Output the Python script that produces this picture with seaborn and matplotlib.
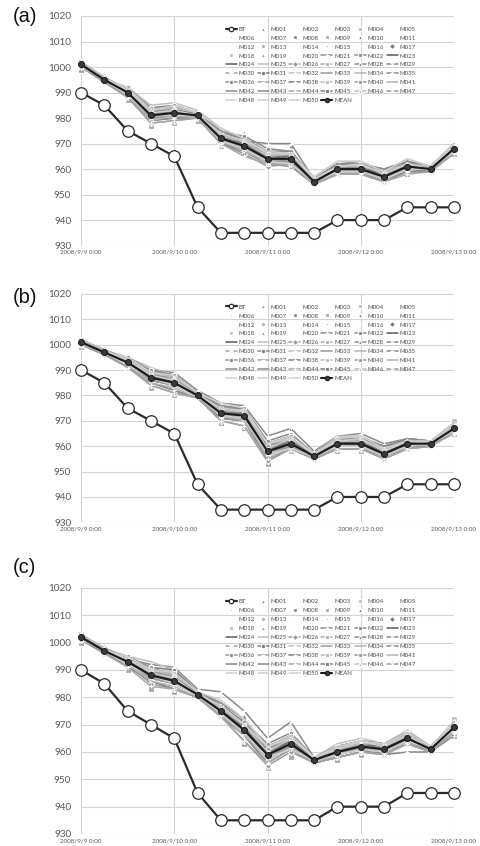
import numpy as np
import pandas as pd
import seaborn as sns
import matplotlib.pyplot as plt

# time axis: every 6 h from 2008/9/9 0:00 to 2008/9/13 0:00
times = pd.date_range("2008-09-09 00:00", periods=17, freq="6h")
day_ticks = pd.date_range("2008-09-09", "2008-09-13", freq="D")
day_labels = ["2008/9/9 0:00", "2008/9/10 0:00", "2008/9/11 0:00",
              "2008/9/12 0:00", "2008/9/13 0:00"]
y_ticks = [930, 940, 950, 960, 970, 980, 990, 1000, 1010, 1020]
panel_tags = ["(a)", "(b)", "(c)"]

# best track central pressure (hPa)
bt = [990, 985, 975, 970, 965, 945, 935, 935, 935, 935, 935, 940, 940, 940, 945, 945, 945]

# ensemble mean per experiment
mean_a = [1001, 995, 990, 981, 982, 981, 972, 969, 964, 964, 955, 960, 960, 957, 961, 960, 968]
mean_b = [1001, 997, 993, 987, 985, 980, 973, 972, 958, 961, 956, 961, 961, 957, 961, 961, 967]
mean_c = [1002, 997, 993, 988, 986, 981, 975, 968, 959, 963, 957, 960, 962, 961, 965, 961, 969]

# member deviations from the mean (hPa), rows M001..M050
dev_a = """
 0  0  1  3  2  1  2  6  2  1  1  1  0  2  1  0  0
-1  0 -1 -2 -1  0 -1 -4 -2 -2  0 -1 -1  0 -1  0 -1
 0  1  0  1  0  0  1  1  0  0 -1  0  1 -1  0  1  1
 1  0  1  0  1  1  0  0  1  1  0  1  0  1  1  0  0
-1 -1 -2 -3 -3 -1 -2 -3 -2 -2 -1 -2 -2 -2 -2 -1 -2
 0  0  2  2  3  1  3  2  1  0  1  2  2  1  2  1  1
 0  0 -1 -1 -2  0 -1 -2 -1 -1  0 -1 -1 -1 -1  0  0
 1  1  1  1  1  0  1  1  0  1  0  0  1  0  1  0  1
-2  0 -3 -4 -4 -2 -3 -3 -3 -3 -1 -2 -1 -2 -3 -1 -2
 0  0  1  4  2  1  3  5  2  5  1  1  1  1  1  0  1
 0 -1  0 -1  1  0 -2 -5 -3 -2  0 -1  0  0 -1  0 -1
 0  0  1  0  0  1  0 -1  0  0  0  1  1  1  0  0  1
 1  1  0  2  1  0  1  0  1  0  1  0  1  2  1  1  0
-1  0 -1  0 -1 -1  0 -1 -1 -1 -1  0 -1 -1  0 -1 -1
 0  0  0 -2 -2  0 -1  0 -1  0  0 -1 -1  0 -1  0  0
 0  0  1  1  2  1  2  2  1  1  0  1  1  1  2  0  1
 0  1  0  0  0  0  0  1  0  0  0  0  0  0  0  1  0
 1  0  1  2  0  1  1  0  1  1  0  1  1  3  1  0  0
 0  0  2  3  3  1  3  4  3  3  1  2  2  2  2  1  1
 0 -1 -2 -1 -2 -1 -2 -3 -2 -2  0 -1 -1 -1 -2  0 -1
 0  0  0  1  1  0  1  2  6  6  1  2  3  1  2  0  1
-1  0 -1 -2 -2 -1 -2 -2 -2 -3 -1 -2 -2 -2 -2 -1 -1
 0  0  1  0  1  0  0  1  0  1  0  0  0  0  1  0  0
 1  0  0  1  0  1  1  0  0 -1  0  1  0  0  0  0  1
 0  0  2  4  4  2  4  3  2  2  2  3  3  2  3  1  2
 0  0 -1 -3 -3 -1 -2 -3 -3 -2 -1 -1 -1 -2 -2 -1 -1
 0  0  0 -1  0  0  0  0  1  0  0  0  1  0  0  0  0
 1  1  1  2  1  1  2  2  1  1  1  1  2  1  1  1  1
-1 -1 -1 -1 -1  0 -1 -1 -1 -1  0 -1 -1 -1 -1 -1  0
 0  0  0  1  2  0  1  1  1  2  0  1  1  1  1  0  1
 0  0  1  3  3  1  2  3  2  2  1  2  2  3  2  0  1
 0  0 -1 -1 -1  0 -1 -2 -1 -1  0 -1  0 -1 -1  0 -1
 0  1  0  0 -1  0  1  0  0  0  0  0 -1  0  0  0  0
 1  0  1  1  1  0  1  1  1  1  1  1  1  1  1  0  1
-1  0 -2 -2 -2 -1 -2 -2 -2 -1 -1 -2 -2 -1 -2 -1 -1
 0  0  1  2  3  1  2  4  4  3  1  2  2  2  2  1  1
 0  0  0 -1 -1  0  0 -1  0  0  0  0  0 -1  0  0  0
 0  1  1  0  1  1  1  0  1  1  1  0  1  0  1  0  1
-1  0 -1 -1  0  0 -1 -1 -2 -1  0 -1 -1 -1 -1  0 -1
 0  0  2  3  2  1  2  2  2  3  1  2  2  2  2  1  1
 0  0 -1 -2 -1 -1 -1 -2 -1 -1 -1 -1 -1 -1 -1  0  0
 1  0  0  0  1  0  0  1  0  0  0  0  0  0  0  0  1
 0  0  1  1  2  1  3  3  3  3  1  2  2  3  2  1  2
 0 -1 -2 -3 -3 -1 -2 -4 -2 -2 -1 -2 -2 -2 -3 -1 -2
 0  0  0  1  0  0  0  1  0  1  0  0  1  1  0  0  0
 1  1  1  2  2  1  1  2  1  2  1  1  1  2  1  1  1
 0  0  0 -1 -1  0 -1 -1 -1 -1  0  0 -1 -1 -1  0 -1
 0  0  2  2  3  1  4  3  2  2  2  3  3  2  3  1  2
 0  0  1  1  1  0  2  2  3  2  1  1  2  1  1  0  1
 0  0 -1  0 -1  0 -1 -1 -1 -2  0 -1 -1 -1 -1  0 -1
"""

dev_b = """
 1  0  1  2  1  1  2  4  2  2  1  1  1  1  1  0  1
-1 -1 -1 -2 -2  0 -2 -2 -3 -2  0 -1 -2 -1 -1  0 -1
 0  1  0  1  1  0  1  1  1  1  0  1  1  0  1  0  0
 1  0  1  0  0  1  0  0  0  0  1  0  0  1  0  0  1
-2 -1 -2 -3 -4 -1 -3 -3 -4 -3 -1 -2 -2 -2 -2 -1 -2
 0  0  1  2  2  1  2  2  3  3  1  2  2  2  1  1  1
 0  0 -1 -1 -1  0 -1 -1 -2 -1  0 -1 -1 -1 -1  0 -1
 1  1  0  1  1  0  1  1  1  0  0  1  0  1  1  0  1
-2 -1 -2 -4 -5 -1 -4 -5 -5 -3 -1 -3 -3 -2 -2 -1 -2
 0  0  1  3  2  1  3  3  4  6  1  2  2  2  1  0  1
 0  0  0 -1  0  0 -1 -2 -2 -1  0 -1  0  0 -1  0 -1
 1  0  1  0  1  1  0  0  1  0  0  0  1  0  0  0  1
 0  1  0  2  1  0  1  0  0  1  1  1  1  2  1  1  0
-1  0 -1 -1 -1 -1  0 -1 -1 -1 -1  0 -1 -1  0 -1 -1
 0  0  0 -2 -3  0 -2 -1 -2 -1  0 -1 -1  0 -1  0 -2
 0  0  1  1  2  1  2  2  2  2  0  1  2  1  1  0  1
 0  1  0  0  0  0  0  1  0  0  0  0  0  0  0  1  0
 1  0  1  2  1  1  1  0  1  1  0  1  1  2  1  0  3
 0  0  2  3  3  1  3  3  4  4  1  2  3  3  2  1  1
 0 -1 -2 -2 -2 -1 -2 -3 -3 -2  0 -1 -1 -1 -1  0 -1
 0  0  1  3  4  2  4  4  6  6  2  3  4  4  2  1  2
-1  0 -1 -2 -3 -1 -2 -2 -3 -2 -1 -2 -2 -1 -2 -1 -1
 0  0  1  0  1  0  0  1  0  1  0  0  0  0  1  0  0
 1  0  0  1  0  1  1  0  0 -1  0  1  0  0  0  0  1
 0  1  2  4  3  1  3  2  2  2  1  3  3  3  2  1  2
 0  0 -1 -3 -4 -1 -3 -4 -4 -2 -1 -2 -2 -2 -2 -1 -1
 0  0  0 -1  0  0  0  0  1  0  0  0  1  0  0  0  0
 1  1  1  2  1  1  2  2  1  1  1  1  2  1  1  1  1
-1 -1 -1 -1 -1  0 -1 -1 -1 -1  0 -1 -1 -1 -1  0  0
 0  0  0  1  2  0  1  1  2  2  0  1  1  1  1  0  1
 0  0  1  3  3  1  2  3  3  3  1  2  2  3  1  0  1
 0  0 -1 -1 -1  0 -1 -2 -1 -1  0 -1  0 -1 -1  0 -1
 0  1  0  0 -1  0  1  0  0  0  0  0 -1  0  0  0  0
 1  0  1  1  1  0  1  1  1  1  1  1  1  1  1  0  1
-1  0 -2 -2 -3 -1 -2 -2 -3 -2 -1 -2 -2 -1 -1 -1 -1
 0  0  1  2  3  1  2  3  4  4  1  2  2  2  1  1  1
 0  0  0 -1 -1  0  0 -1  0  0  0  0  0 -1  0  0  0
 0  1  1  0  1  1  1  0  1  1  1  0  1  0  1  0  1
-1  0 -1 -1  0  0 -1 -1 -2 -1  0 -1 -1 -1 -1  0 -1
 0  0  2  3  2  1  2  2  2  3  1  2  2  2  2  1  1
 0  0 -1 -2 -2 -1 -1 -2 -1 -1 -1 -1 -1 -1 -1  0  0
 1  0  0  0  1  0  0  1  0  0  0  0  0  0  0  0  1
 0  0  1  1  2  1  3  3  3  3  1  2  2  3  2  1  2
 0 -1 -2 -3 -4 -1 -3 -4 -3 -2 -1 -2 -2 -2 -2 -1 -2
 0  0  0  1  0  0  0  1  0  1  0  0  1  1  0  0  0
 1  1  1  2  2  1  1  2  1  2  1  1  1  2  1  1  1
 0  0  0 -1 -1  0 -1 -1 -1 -1  0  0 -1 -1 -1  0 -1
 0  0  2  2  3  1  4  3  3  3  1  2  3  2  1  1  2
 0  0  1  1  1  0  2  2  3  2  1  1  2  1  1  0  1
 0  0 -1  0 -1  0 -1 -1 -1 -2  0 -1 -1 -1 -1  0 -1
"""

dev_c = """
 0  0  1  2  1  1  1  5  2  2  1  1  1  1  1  0  1
-1 -1 -1 -2 -2  0 -1 -2 -3 -2  0 -1 -2 -1 -1  0 -1
 0  1  0  1  1  0  1  1  1  1  0  1  1  0  1  0  0
 1  0  1  0  0  1  0  0  0  0  1  0  0  1  0  0  1
-2 -1 -2 -4 -3 -1 -2 -4 -4 -3 -1 -2 -2 -2 -3 -1 -2
 0  0  1  2  2  1  2  2  3  3  1  2  2  1  2  1  2
 0  0 -1 -1 -1  0 -1 -1 -2 -1  0 -1 -1 -1 -1  0 -1
 1  1  0  1  1  0  1  1  1  0  0  1  0  1  1  0  1
-2 -1 -3 -5 -4 -1 -2 -5 -5 -5 -1 -3 -3 -2 -2 -1 -3
 0  0  1  3  2  1  2  3  3  5  1  2  2  1  2  0  2
 0  0  0 -1  0  0 -1 -2 -2 -1  0 -1  0  0 -1  0 -1
 1  0  1  0  1  1  0  0  1  0  0  0  1  0  0  0  1
 0  1  0  2  1  0  1  0  0  1  1  1  1  1  1  1  0
-1  0 -1 -1 -1 -1  0 -1 -1 -1 -1  0 -1 -1  0 -1 -1
 0  0  0 -2 -3  0 -1 -1 -2 -1  0 -1 -1  0 -1  0 -2
 0  0  1  1  2  1  2  2  2  2  0  1  2  1  1  0  1
 0  1  0  0  0  0  0  1  0  0  0  0  0  0  0  1  0
 1  0  1  2  1  1  1  0  1  1  0  1  1  1  1  0  3
 0  0  2  3  3  1  2  3  3  4  1  2  3  2  3  1  2
 0 -1 -2 -2 -2 -1 -1 -3 -3 -2  0 -1 -1 -1 -2  0 -1
 0  0  1  4  5  2  7  7  6  8  1  1  0 -2 -5 -1 -3
-1  0 -1 -2 -3 -1 -2 -2 -3 -2 -1 -2 -2 -1 -2 -1 -1
 0  0  1  0  1  0  0  1  0  1  0  0  0  0  1  0  0
 1  0  0  1  0  1  1  0  0 -1  0  1  0  0  0  0  1
 0  1  2  5  4  1  3  2  2  2  1  3  3  2  3  1  2
 0  0 -1 -3 -3 -1 -2 -4 -4 -3 -1 -2 -2 -2 -2 -1 -1
 0  0  0 -1  0  0  0  0  1  0  0  0  1  0  0  0  0
 1  1  1  2  1  1  2  2  1  1  1  1  2  1  1  1  1
-1 -1 -1 -1 -1  0 -1 -1 -1 -1  0 -1 -1 -1 -1  0  0
 0  0  0  1  2  0  1  1  2  2  0  1  1  1  1  0  1
 0  0  1  3  4  1  2  3  3  3  1  2  2  2  2  0  1
 0  0 -1 -1 -1  0 -1 -2 -1 -1  0 -1  0 -1 -1  0 -1
 0  1  0  0 -1  0  1  0  0  0  0  0 -1  0  0  0  0
 1  0  1  1  1  0  1  1  1  1  1  1  1  1  1  0  1
-1  0 -2 -2 -3 -1 -1 -2 -3 -2 -1 -2 -2 -1 -1 -1 -1
 0  0  1  2  3  1  2  3  4  4  1  2  2  2  2  1  1
 0  0  0 -1 -1  0  0 -1  0  0  0  0  0 -1  0  0  0
 0  1  1  0  1  1  1  0  1  1  1  0  1  0  1  0  1
-1  0 -1 -1  0  0 -1 -1 -2 -1  0 -1 -1 -1 -1  0 -1
 0  0  2  3  2  1  2  2  2  3  1  2  2  2  2  1  1
 0  0 -1 -2 -2 -1 -1 -2 -1 -1 -1 -1 -1 -1 -1  0  0
 1  0  0  0  1  0  0  1  0  0  0  0  0  0  0  0  1
 0  0  1  1  2  1  3  4  3  3  1  2  2  2  2  1  2
 0 -1 -2 -4 -3 -1 -2 -4 -3 -2 -1 -2 -2 -2 -2 -1 -2
 0  0  0  1  0  0  0  1  0  1  0  0  1  1  0  0  0
 1  1  1  2  2  1  1  2  1  2  1  1  1  2  1  1  1
 0  0  0 -1 -1  0 -1 -1 -1 -1  0  0 -1 -1 -1  0 -1
 0  0  2  2  3  1  4  4  3  3  1  2  2  2  2  1  2
 0  0  1  1  1  0  2  2  3  2  1  1  2  1  1  0  1
 0  0 -1  0 -1  0 -1 -1 -1 -2  0 -1 -1 -1 -1  0 -1
"""

member_names = [f"M{i:03d}" for i in range(1, 51)]

# marker per member as in the legend; None = plain line
member_markers = ['^', 'x', (6, 2, 0), 'o', '+', '.', '_', 'o', 's', '^',
                  'x', 'x', 'o', '+', '.', '_', 'D', 's', '^', 'x',
                  '+', 'o', None, None, None, 'D', 's', '^', 'x', (6, 2, 0),
                  'o', '+', None, None, '+', 'o', '_', '+', 's', 'o',
                  None, None, None, '+', 's', '^', 'x', None, None, None]
grays = ['#8c8c8c', '#a6a6a6', '#7a7a7a', '#bfbfbf', '#999999', '#b3b3b3', '#8a8a8a']


def parse(txt):
    return np.array([r.split() for r in txt.strip().splitlines()], dtype=float)


def draw_panel(ax, mean, dev):
    members = np.array(mean, dtype=float) + parse(dev)

    sns.lineplot(x=times, y=bt, ax=ax, color='#2b2b2b', lw=1.6, marker='o',
                 markersize=8.3, markerfacecolor='white', markeredgecolor='#2b2b2b',
                 markeredgewidth=0.9, label='BT', clip_on=False, zorder=3)

    for i, name in enumerate(member_names):
        col = grays[i % len(grays)]
        if name in ('M023', 'M024'):
            col = '#595959'
        if i >= 47:
            col = '#cfcfcf'
        mk = member_markers[i]
        if i < 20:
            # marker-only series
            sns.lineplot(x=times, y=members[i], ax=ax, color=col, marker=mk,
                         markersize=3.8, linestyle='', markeredgewidth=0.9,
                         label=name, clip_on=False, zorder=2)
        else:
            sns.lineplot(x=times, y=members[i], ax=ax, color=col,
                         marker=mk if mk is not None else '', markersize=3.2,
                         lw=1.1, markeredgewidth=0.8, label=name,
                         clip_on=False, zorder=2)

    sns.lineplot(x=times, y=mean, ax=ax, color='#1a1a1a', lw=1.5, marker='o',
                 markersize=4.3, markerfacecolor='#3a3a3a', markeredgecolor='#1a1a1a',
                 label='MEAN', clip_on=False, zorder=4)

    ax.set_xlim(times[0], times[-1])
    ax.set_ylim(930, 1020)
    ax.set_yticks(y_ticks)
    ax.set_xticks(day_ticks)
    ax.set_xticklabels(day_labels)
    ax.set_xlabel('')
    ax.set_ylabel('')
    ax.grid(True, color='#d2d2d2', lw=0.8)
    ax.set_axisbelow(True)
    for s in ax.spines.values():
        s.set_visible(False)
    ax.tick_params(axis='y', length=0, pad=7, labelsize=7.2, labelcolor='#595959')
    ax.tick_params(axis='x', length=0, pad=3, labelsize=4.5, labelcolor='#595959')

    # legend, row-major like the original (matplotlib fills column-major)
    handles, labels = ax.get_legend_handles_labels()
    n = len(labels)
    order = [r * 6 + j for j in range(6) for r in range(9) if r * 6 + j < n]
    leg = ax.legend([handles[k] for k in order], [labels[k] for k in order],
                    ncol=6, fontsize=4.4, frameon=False, loc='upper left',
                    bbox_to_anchor=(0.38, 0.968), borderpad=0, handlelength=1.8,
                    handletextpad=0.3, columnspacing=0.45, labelspacing=0.6)
    for t in leg.get_texts():
        t.set_color('#4d4d4d')
    for h in leg.legend_handles:
        h.set_markersize(min(h.get_markersize(), 3.2))


sns.set_style("white")
plt.rcParams['font.family'] = ['Lato', 'DejaVu Sans']

fig = plt.figure(figsize=(4.81, 8.46), dpi=100)
boxes = [[0.1684, 0.7097, 0.7755, 0.2714],
         [0.1684, 0.3826, 0.7755, 0.2699],
         [0.1684, 0.0142, 0.7755, 0.2908]]
tag_y = [0.980, 0.6483, 0.3292]

for box, mean, dev, tag, ty in zip(boxes, [mean_a, mean_b, mean_c],
                                   [dev_a, dev_b, dev_c], panel_tags, tag_y):
    ax = fig.add_axes(box)
    draw_panel(ax, mean, dev)
    fig.text(0.027, ty, tag, fontsize=14.5, va='center', ha='left',
             family='Liberation Sans', color='#111111')

fig.savefig("out.png", dpi=100)
